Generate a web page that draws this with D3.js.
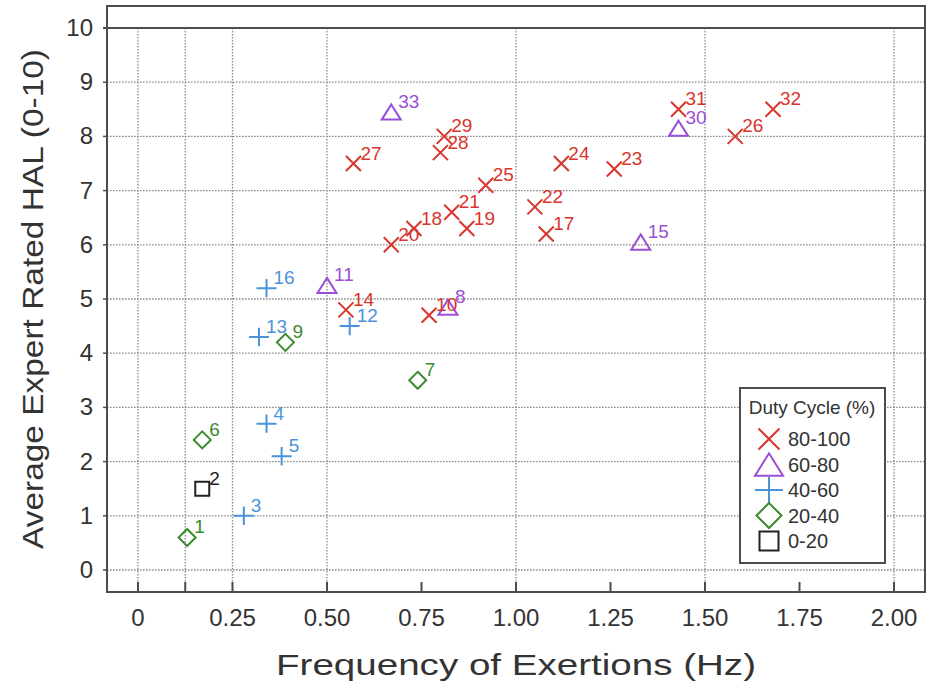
<!DOCTYPE html>
<html>
<head>
<meta charset="utf-8">
<script src="https://cdn.jsdelivr.net/npm/d3@7"></script>
<style>
  body { margin: 0; background: #fff; }
  svg text { font-family: "Liberation Sans", Arial, sans-serif; }
</style>
</head>
<body>
<div id="container"></div>
<script>
// ---------------- data ----------------
var pointIds  = [1, 2, 3, 4, 5, 6, 7, 8, 9, 10, 11, 12, 13, 14, 15, 16, 17,
                 18, 19, 20, 21, 22, 23, 24, 25, 26, 27, 28, 29, 30, 31, 32, 33];
var freqHz    = [0.13, 0.17, 0.28, 0.34, 0.38, 0.17, 0.74, 0.82, 0.39, 0.77, 0.50, 0.56, 0.32, 0.55, 1.33, 0.34, 1.08,
                 0.73, 0.87, 0.67, 0.83, 1.05, 1.26, 1.12, 0.92, 1.58, 0.57, 0.80, 0.81, 1.43, 1.43, 1.68, 0.67];
var halRating = [0.6, 1.5, 1.0, 2.7, 2.1, 2.4, 3.5, 4.85, 4.2, 4.7, 5.25, 4.5, 4.3, 4.8, 6.05, 5.2, 6.2,
                 6.3, 6.3, 6.0, 6.6, 6.7, 7.4, 7.5, 7.1, 8.0, 7.5, 7.7, 8.0, 8.15, 8.5, 8.5, 8.45];
var dutyGroup = ["20-40", "0-20", "40-60", "40-60", "40-60", "20-40", "20-40", "60-80", "20-40", "80-100", "60-80",
                 "40-60", "40-60", "80-100", "60-80", "40-60", "80-100",
                 "80-100", "80-100", "80-100", "80-100", "80-100", "80-100", "80-100", "80-100", "80-100",
                 "80-100", "80-100", "80-100", "60-80", "80-100", "80-100", "60-80"];

var groups      = ["80-100", "60-80", "40-60", "20-40", "0-20"];
var groupColors = ["#d8352d", "#9a4fd6", "#4a93dc", "#3b8b2e", "#222222"];
var groupShapes = ["times", "triangle", "plus", "diamond", "square"];

var xTicks     = [0, 0.125, 0.25, 0.5, 0.75, 1, 1.25, 1.5, 1.75, 2];
var xLabels    = [0, 0.25, 0.5, 0.75, 1, 1.25, 1.5, 1.75, 2];
var xGridLines = [0, 0.125, 0.25, 0.5, 1, 1.5, 2];
var yTicks     = [0, 1, 2, 3, 4, 5, 6, 7, 8, 9, 10];

// ---------------- layout ----------------
var W = 930, H = 688;
var margin = {left: 107, top: 6, right: 5, bottom: 96};
var width = W - margin.left - margin.right;
var height = H - margin.top - margin.bottom;

var svg = d3.select("#container").append("svg")
    .attr("width", W)
    .attr("height", H);

var g = svg.append("g")
    .attr("transform", "translate(" + margin.left + "," + margin.top + ")");

var x = d3.scaleLinear().domain([-0.082, 2.082]).range([0, width]);
var y = d3.scaleLinear().domain([-0.406, 10.406]).range([height, 0]);

var color = d3.scaleOrdinal().domain(groups).range(groupColors);
var shape = d3.scaleOrdinal().domain(groups).range(groupShapes);

// marker outlines, s = half size
function markerPath(type, s) {
  var p = d3.path();
  if (type === "times") {
    p.moveTo(-s, -s); p.lineTo(s, s);
    p.moveTo(-s, s); p.lineTo(s, -s);
  } else if (type === "triangle") {
    var h = s * 0.8;
    p.moveTo(0, -h); p.lineTo(s, h); p.lineTo(-s, h); p.closePath();
  } else if (type === "plus") {
    p.moveTo(-s, 0); p.lineTo(s, 0);
    p.moveTo(0, -s * 0.92); p.lineTo(0, s * 0.92);
  } else if (type === "diamond") {
    p.moveTo(0, -s); p.lineTo(s, 0); p.lineTo(0, s); p.lineTo(-s, 0); p.closePath();
  } else {
    p.rect(-s, -s, 2 * s, 2 * s);
  }
  return p.toString();
}
var plotSize = {times: 7.5, triangle: 9.5, plus: 10, diamond: 8.5, square: 7};
var legendSize = {times: 10.5, triangle: 14, plus: 14, diamond: 12.5, square: 9.5};

// ---------------- grid ----------------
var gridColor = "#8a8a8a";

g.selectAll(".hgrid")
    .data(yTicks.filter(function(d) { return d < 10; }))
    .enter().append("line")
    .attr("class", "hgrid")
    .attr("x1", 0).attr("x2", width)
    .attr("y1", function(d) { return y(d); })
    .attr("y2", function(d) { return y(d); })
    .style("stroke", gridColor)
    .style("stroke-width", 1.3)
    .style("stroke-dasharray", "1.6,1.4");

g.selectAll(".vgrid")
    .data(xGridLines)
    .enter().append("line")
    .attr("class", "vgrid")
    .attr("x1", function(d) { return x(d); })
    .attr("x2", function(d) { return x(d); })
    .attr("y1", y(10)).attr("y2", height)
    .style("stroke", gridColor)
    .style("stroke-width", 1.3)
    .style("stroke-dasharray", "1.6,1.4");

// solid top line at 10
g.append("line")
    .attr("x1", -4).attr("x2", width)
    .attr("y1", y(10)).attr("y2", y(10))
    .style("stroke", "#4d4d4d")
    .style("stroke-width", 2);

// frame
g.append("rect")
    .attr("width", width).attr("height", height)
    .style("fill", "none")
    .style("stroke", "#4d4d4d")
    .style("stroke-width", 2);

// ---------------- axes ----------------
g.selectAll(".xtick")
    .data(xTicks)
    .enter().append("line")
    .attr("x1", function(d) { return x(d); })
    .attr("x2", function(d) { return x(d); })
    .attr("y1", height).attr("y2", height - 10)
    .style("stroke", "#4d4d4d")
    .style("stroke-width", 2);

g.selectAll(".ytick")
    .data(yTicks)
    .enter().append("line")
    .attr("x1", -4).attr("x2", 0)
    .attr("y1", function(d) { return y(d); })
    .attr("y2", function(d) { return y(d); })
    .style("stroke", "#4d4d4d")
    .style("stroke-width", 1.5);

var fmtX = function(d) { return d === 0 ? "0" : d3.format(".2f")(d); };

g.selectAll(".xlabel")
    .data(xLabels)
    .enter().append("text")
    .attr("x", function(d) { return x(d); })
    .attr("y", height + 34)
    .style("text-anchor", "middle")
    .style("font-size", "24px")
    .style("fill", "#333")
    .text(fmtX);

g.selectAll(".ylabel")
    .data(yTicks)
    .enter().append("text")
    .attr("x", -14)
    .attr("y", function(d) { return y(d) + 8; })
    .style("text-anchor", "end")
    .style("font-size", "24px")
    .style("fill", "#333")
    .text(function(d) { return d; });

svg.append("text")
    .attr("x", margin.left + x(1))
    .attr("y", 675)
    .attr("textLength", 480)
    .attr("lengthAdjust", "spacingAndGlyphs")
    .style("text-anchor", "middle")
    .style("font-size", "30px")
    .style("fill", "#333")
    .text("Frequency of Exertions (Hz)");

svg.append("text")
    .attr("transform", "translate(43," + (margin.top + y(5)) + ") rotate(-90)")
    .attr("textLength", 500)
    .attr("lengthAdjust", "spacingAndGlyphs")
    .style("text-anchor", "middle")
    .style("font-size", "30px")
    .style("fill", "#333")
    .text("Average Expert Rated HAL (0-10)");

// ---------------- points ----------------
var points = pointIds.map(function(id, i) {
  return {id: id, freq: freqHz[i], hal: halRating[i], group: dutyGroup[i]};
});

var pts = g.selectAll(".pt")
    .data(points)
    .enter().append("g")
    .attr("class", "pt")
    .attr("transform", function(d) { return "translate(" + x(d.freq) + "," + y(d.hal) + ")"; });

pts.append("path")
    .attr("d", function(d) { return markerPath(shape(d.group), plotSize[shape(d.group)]); })
    .style("fill", "none")
    .style("stroke", function(d) { return color(d.group); })
    .style("stroke-width", 2);

pts.append("text")
    .attr("x", 7)
    .attr("y", -4)
    .style("font-size", "19px")
    .style("fill", function(d) { return color(d.group); })
    .text(function(d) { return d.id; });

// ---------------- legend ----------------
var legend = svg.append("g")
    .attr("transform", "translate(740,388)");

legend.append("rect")
    .attr("width", 145).attr("height", 175)
    .style("fill", "#fff")
    .style("stroke", "#4d4d4d")
    .style("stroke-width", 2);

legend.append("text")
    .attr("x", 72).attr("y", 26)
    .style("text-anchor", "middle")
    .style("font-size", "19px")
    .style("fill", "#333")
    .text("Duty Cycle (%)");

var items = legend.selectAll(".item")
    .data(groups)
    .enter().append("g")
    .attr("transform", function(d, i) { return "translate(29," + (51 + i * 25.5) + ")"; });

items.append("path")
    .attr("d", function(d) { return markerPath(shape(d), legendSize[shape(d)]); })
    .style("fill", "none")
    .style("stroke", function(d) { return color(d); })
    .style("stroke-width", 2);

items.append("text")
    .attr("x", 19).attr("y", 7)
    .style("font-size", "20px")
    .style("fill", "#333")
    .text(function(d) { return d; });
</script>
</body>
</html>
